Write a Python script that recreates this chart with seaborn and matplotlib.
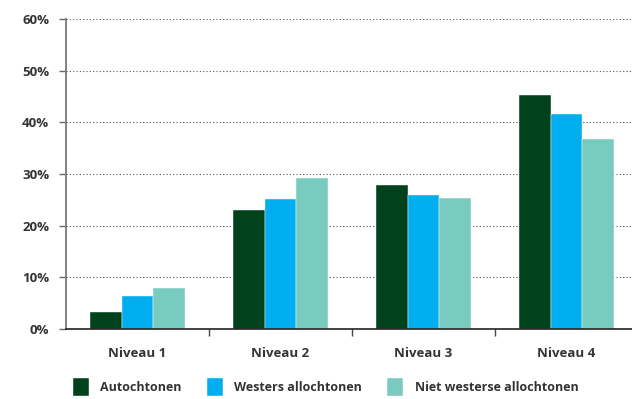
import pandas as pd
import matplotlib
matplotlib.use("Agg")
import matplotlib.pyplot as plt
import seaborn as sns

# values (percent)
niveaus = ["Niveau 1", "Niveau 2", "Niveau 3", "Niveau 4"]
groepen = ["Autochtonen", "Westers allochtonen", "Niet westerse allochtonen"]
autochtonen = [3.2, 23.0, 27.8, 45.3]
westers = [6.4, 25.1, 26.0, 41.7]
niet_westers = [7.9, 29.3, 25.4, 36.7]
yticks = [0, 10, 20, 30, 40, 50, 60]
kleuren = ["#00421c", "#00aeef", "#7acbbf"]

sns.set_theme(style="white")
plt.rcParams["font.family"] = ["Open Sans", "DejaVu Sans"]
tekst = "#333333"

df = pd.DataFrame({
    "niveau": niveaus * 3,
    "groep": [g for g in groepen for _ in niveaus],
    "waarde": autochtonen + westers + niet_westers,
})

fig = plt.figure(figsize=(6.32, 3.99), dpi=100)
ax = fig.add_axes([66 / 632, 1 - 329 / 399, 1 - 66 / 632, (329 - 19) / 399])

sns.barplot(data=df, x="niveau", y="waarde", hue="groep", order=niveaus,
            hue_order=groepen, palette=kleuren, saturation=1, width=0.67, gap=0,
            edgecolor="white", linewidth=0.3, ax=ax, legend=True)

ax.set_ylim(0, 60)
ax.set_xlim(-0.5, 3.458)
ax.set_yticks(yticks)
ax.set_yticklabels([f"{t}%" for t in yticks], fontsize=9.5, fontweight="bold", color=tekst)
ax.set_xticklabels(niveaus, fontsize=9.5, fontweight="bold", color=tekst)
ax.set_xlabel("")
ax.set_ylabel("")

# dotted grid lines
ax.yaxis.grid(True, linestyle=(0, (1, 2)), color="#555555", linewidth=0.8)
ax.set_axisbelow(True)

# group boundary ticks on x axis
ax.set_xticks([0.5, 1.5, 2.5], minor=True)
ax.tick_params(axis="x", which="major", length=0, pad=13)
ax.tick_params(axis="x", which="minor", length=5, width=1, color="#444444", direction="out", bottom=True)
ax.tick_params(axis="y", which="major", length=5, width=1, color="#666666", direction="out", left=True, pad=7)

for s in ["top", "right"]:
    ax.spines[s].set_visible(False)
ax.spines["left"].set_color("#777777")
ax.spines["left"].set_linewidth(1.3)
ax.spines["bottom"].set_color("#222222")
ax.spines["bottom"].set_linewidth(1.2)

handles, labels = ax.get_legend_handles_labels()
ax.get_legend().remove()
fig.legend(handles, labels, loc="lower center", bbox_to_anchor=(0.515, -0.02), ncol=3,
           frameon=False, handlelength=1.3, handleheight=1.8, handletextpad=0.9,
           columnspacing=2.0, prop={"size": 9, "weight": "bold"}, labelcolor=tekst)

fig.savefig("out.png", dpi=100)
